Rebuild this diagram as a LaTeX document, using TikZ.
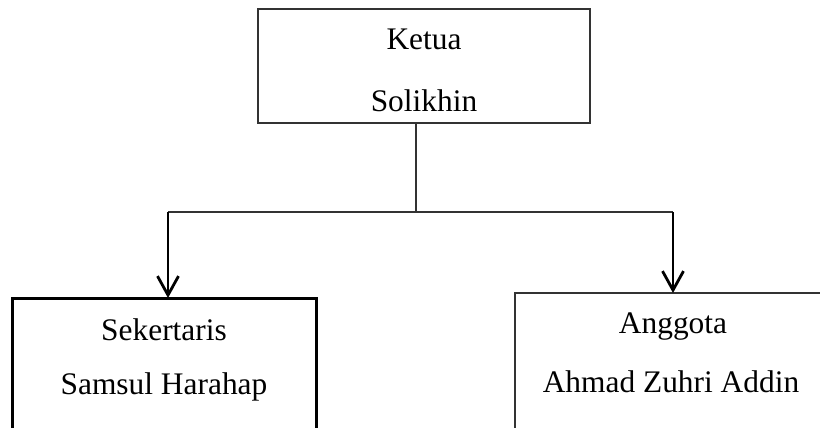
\documentclass[tikz,border=0pt]{standalone}
\usepackage{fontspec}
\setmainfont{Liberation Serif}
\usetikzlibrary{arrows.meta}
\begin{document}
\begin{tikzpicture}[x=0.5pt,y=-0.5pt,
  lbl/.style={anchor=base,inner sep=0pt,font=\fontsize{15.7}{18}\selectfont},
  thinline/.style={line width=0.8pt,draw=black!80},
  arr/.style={line width=1.4pt,-{Straight Barb[length=9.5pt,width=10.5pt,line width=1.4pt]}}]
\useasboundingbox (0,0) rectangle (820,428);
% top box
\node[draw=black!80,line width=0.9pt,minimum width=166pt,minimum height=57pt,inner sep=0pt] (ketua) at (424,66) {};
\node[lbl] (ketuat) at (424,49) {Ketua};
\node[lbl] (solikhin) at (424,111) {Solikhin};
% left box (open at the bottom)
\coordinate (sektop) at (168,298);
\draw[line width=1.5pt] (12,428) -- (12,298) -- (316,298) -- (316,428);
\node[lbl] (sek) at (164,340) {Sekertaris};
\node[lbl] (samsul) at (164,394) {Samsul Harahap};
% right box (open at bottom and right)
\coordinate (angtop) at (673,293);
\draw[thinline] (515,428) -- (515,293) -- (820,293);
\node[lbl] (ang) at (673,333) {Anggota};
\node[lbl] (ahmad) at (671,392) {Ahmad Zuhri Addin};
% connectors
\coordinate (junction) at (416,212);
\coordinate (jl) at (168,212);
\coordinate (jr) at (673,212);
\draw[thinline] (junction |- ketua.south) -- (junction);
\draw[thinline] (jl) -- (jr);
\draw[arr] (jl) -- (sektop);
\draw[arr] (jr) -- (angtop);
\end{tikzpicture}
\end{document}
